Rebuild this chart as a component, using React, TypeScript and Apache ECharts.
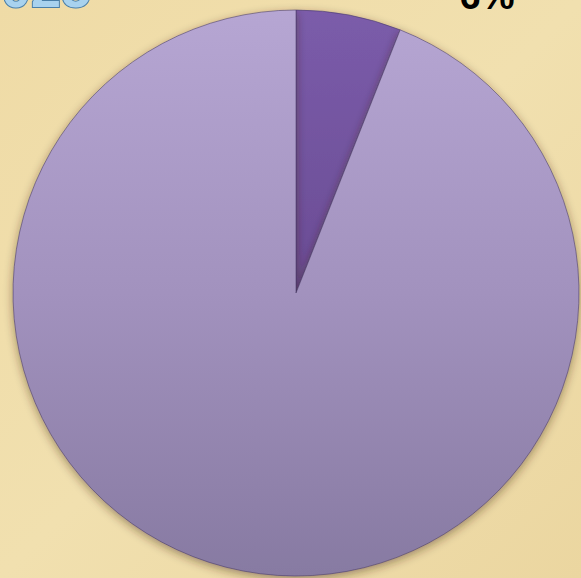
import React, { useEffect, useRef } from "react";
import * as echarts from "echarts";

const categories = ["Share A", "Share B"];
const values = [6, 94];
const labelTexts = ["6%", ""];
const titleText = "2025";

export default function App() {
  const ref = useRef<HTMLDivElement>(null);
  useEffect(() => {
    if (!ref.current) return;
    const chart = echarts.init(ref.current, null, { renderer: "svg" });
    const colors = [
      new echarts.graphic.LinearGradient(0, 0, 0, 1, [
        { offset: 0, color: "#7B5CAA" },
        { offset: 1, color: "#6A4C94" },
      ]),
      new echarts.graphic.LinearGradient(0, 0, 0, 1, [
        { offset: 0, color: "#B6A6D3" },
        { offset: 0.5, color: "#A292BE" },
        { offset: 1, color: "#877AA2" },
      ]),
    ];
    chart.setOption({
      animation: false,
      backgroundColor: new echarts.graphic.LinearGradient(0, 0, 1, 1, [
        { offset: 0, color: "#EFDBA6" },
        { offset: 0.5, color: "#F1E0AF" },
        { offset: 1, color: "#EBD6A0" },
      ]),
      graphic: [
        {
          type: "text",
          left: -30,
          top: -40,
          z: 10,
          style: {
            text: titleText,
            fill: "#A8D2EE",
            stroke: "#4A7FA8",
            lineWidth: 2,
            font: "bold 54px Arial, 'Liberation Sans', sans-serif",
          },
        },
      ],
      series: [
        {
          type: "pie",
          center: [296, 293],
          radius: 283,
          startAngle: 90,
          clockwise: true,
          data: categories.map((c, i) => ({
            name: c,
            value: values[i],
            itemStyle: { color: colors[i] },
            label: { show: i === 0 },
          })),
          itemStyle: {
            borderColor: "rgba(70,55,100,0.55)",
            borderWidth: 1,
            shadowBlur: 10,
            shadowColor: "rgba(60,40,20,0.45)",
            shadowOffsetY: 3,
          },
          label: {
            position: "outside",
            formatter: (p: any) => labelTexts[p.dataIndex],
            color: "#000",
            fontWeight: "bold",
            fontSize: 38,
            fontFamily: "Arial, 'Liberation Sans', sans-serif",
          },
          labelLine: { show: false },
          labelLayout: (params: any) =>
            params.dataIndex === 0
              ? { x: 487, y: -4, align: "center", verticalAlign: "middle" }
              : {},
          emphasis: { disabled: true },
        },
      ],
    });
    return () => chart.dispose();
  }, []);
  return (
    <div
      ref={ref}
      style={{ position: "fixed", left: 0, top: 0, width: 581, height: 578 }}
    />
  );
}
